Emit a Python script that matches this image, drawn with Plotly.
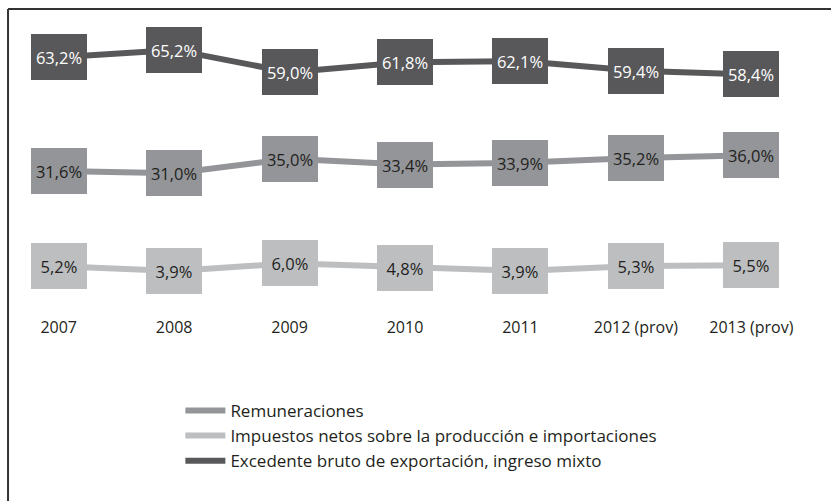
import plotly.graph_objects as go

years = ["2007", "2008", "2009", "2010", "2011", "2012 (prov)", "2013 (prov)"]
remuneraciones = [31.6, 31.0, 35.0, 33.4, 33.9, 35.2, 36.0]
impuestos = [5.2, 3.9, 6.0, 4.8, 3.9, 5.3, 5.5]
excedente = [63.2, 65.2, 59.0, 61.8, 62.1, 59.4, 58.4]

series = [
    ("Remuneraciones", remuneraciones, "#939598", "#231f20"),
    ("Impuestos netos sobre la producción e importaciones", impuestos, "#bcbec0", "#231f20"),
    ("Excedente bruto de exportación, ingreso mixto", excedente, "#58585a", "#ffffff"),
]

FONT = "Open Sans"

fig = go.Figure()
annotations = []
for name, values, color, text_color in series:
    fig.add_trace(go.Scatter(
        x=years, y=values, mode="lines", name=name,
        line=dict(color=color, width=6),
        hoverinfo="skip",
    ))
    # value boxes; category axis positions are given by index
    for i, v in enumerate(values):
        annotations.append(dict(
            x=i, y=v, xref="x", yref="y",
            text=f"{v:.1f}%".replace(".", ","),
            showarrow=False,
            bgcolor=color, width=56, height=46, borderpad=0, borderwidth=0,
            font=dict(family=FONT, size=16.5, color=text_color),
            align="center", valign="middle",
        ))

# open frame: top and left rules
shapes = [
    dict(type="line", xref="paper", yref="paper", x0=0.0087, x1=1.05, y0=1.037, y1=1.037,
         line=dict(color="#333333", width=2)),
    dict(type="line", xref="paper", yref="paper", x0=0.0087, x1=0.0087, y0=1.037, y1=-0.65,
         line=dict(color="#333333", width=2)),
]

fig.update_layout(
    width=831, height=501,
    margin=dict(l=1, r=22, t=20, b=185),
    paper_bgcolor="white", plot_bgcolor="white",
    showlegend=True,
    legend=dict(
        x=0.222, y=-0.26, xanchor="left", yanchor="top",
        font=dict(family=FONT, size=17, color="#231f20"),
        traceorder="normal", tracegroupgap=0, itemwidth=40,
        bgcolor="rgba(0,0,0,0)",
    ),
    xaxis=dict(
        type="category", range=[-0.5, 6.5], showgrid=False, zeroline=False,
        showline=False, ticks="", tickfont=dict(family=FONT, size=16, color="#231f20"),
        fixedrange=True,
    ),
    yaxis=dict(
        range=[-8.6, 73.5], visible=False, fixedrange=True,
    ),
    annotations=annotations,
    shapes=shapes,
)

fig.write_html("out.html")
